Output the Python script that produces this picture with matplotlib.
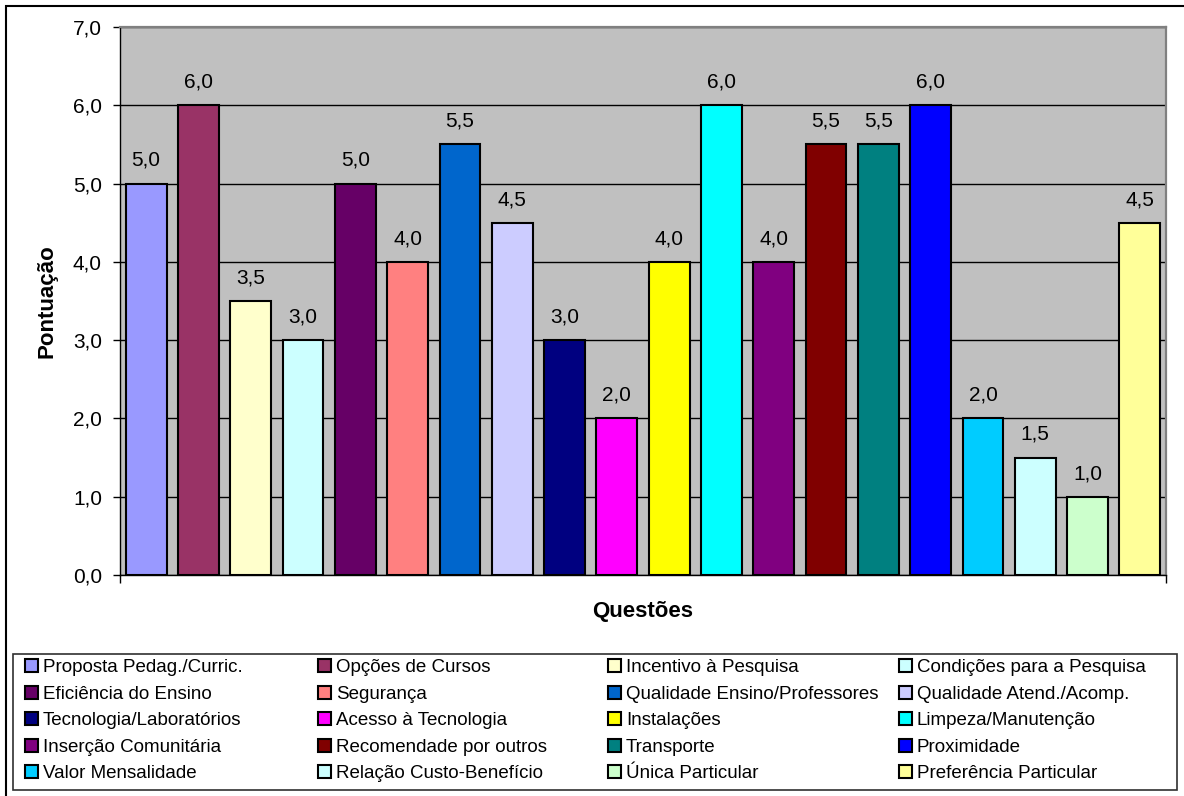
import matplotlib
matplotlib.use("Agg")
import matplotlib.pyplot as plt
from matplotlib.patches import Rectangle

plt.rcParams['font.family'] = ['Liberation Sans', 'DejaVu Sans']

# Survey items, in legend order (row by row, four per row)
questoes = [
    "Proposta Pedag./Curric.", "Opções de Cursos", "Incentivo à Pesquisa",
    "Condições para a Pesquisa", "Eficiência do Ensino", "Segurança",
    "Qualidade Ensino/Professores", "Qualidade Atend./Acomp.",
    "Tecnologia/Laboratórios", "Acesso à Tecnologia", "Instalações",
    "Limpeza/Manutenção", "Inserção Comunitária", "Recomendade por outros",
    "Transporte", "Proximidade", "Valor Mensalidade",
    "Relação Custo-Benefício", "Única Particular", "Preferência Particular",
]

pontuacao = [5.0, 6.0, 3.5, 3.0, 5.0, 4.0, 5.5, 4.5, 3.0, 2.0,
             4.0, 6.0, 4.0, 5.5, 5.5, 6.0, 2.0, 1.5, 1.0, 4.5]

cores = [
    "#9999FF", "#993366", "#FFFFCC", "#CCFFFF", "#660066",
    "#FF8080", "#0066CC", "#CCCCFF", "#000080", "#FF00FF",
    "#FFFF00", "#00FFFF", "#800080", "#800000", "#008080",
    "#0000FF", "#00CCFF", "#CCFFFF", "#CCFFCC", "#FFFF99",
]

y_ticks = [0, 1, 2, 3, 4, 5, 6, 7]


def fmt_br(v):
    return f"{v:.1f}".replace(".", ",")


y_tick_labels = [fmt_br(v) for v in y_ticks]

W, H = 1184, 796
fig = plt.figure(figsize=(W / 100, H / 100), dpi=100)


def fx(px):
    return px / W


def fy(py):
    return 1 - py / H


# outer chart frame
fig.patches.append(Rectangle((fx(6), -0.1), 1.2, fy(6) + 0.1,
                             transform=fig.transFigure, fill=False,
                             edgecolor="black", linewidth=1.5))

ax = fig.add_axes([fx(120), fy(575), fx(1166) - fx(120), fy(27) - fy(575)])
ax.set_facecolor("#C0C0C0")

xpos = list(range(len(pontuacao)))
bars = ax.bar(xpos, pontuacao, width=0.78, color=cores, edgecolor="black",
              linewidth=1.5, zorder=3)

for xi, v in zip(xpos, pontuacao):
    ax.annotate(fmt_br(v), (xi, v), xytext=(0, 12.7),
                textcoords="offset points", ha="center", va="baseline",
                fontsize=15)

ax.set_xlim(-0.5, len(pontuacao) - 0.5)
ax.set_ylim(0, 7)
ax.set_yticks(y_ticks)
ax.set_yticklabels(y_tick_labels)
ax.set_xticks([-0.5, len(pontuacao) - 0.5])
ax.set_xticklabels(["", ""])
ax.tick_params(axis="y", direction="out", length=5, width=1, pad=8,
               labelsize=15, colors="black")
ax.tick_params(axis="x", direction="out", length=6, width=1, colors="black")

ax.set_axisbelow(True)
ax.yaxis.grid(True, color="black", linewidth=1)

for side in ("left", "bottom"):
    ax.spines[side].set_color("black")
    ax.spines[side].set_linewidth(1)
for side in ("top", "right"):
    ax.spines[side].set_color("#808080")
    ax.spines[side].set_linewidth(1.6)

ax.set_ylabel("Pontuação", fontsize=16, fontweight="bold")
ax.yaxis.label.set_va("center")
ax.yaxis.set_label_coords((47 - 120) / 1046, 0.5)
ax.set_xlabel("Questões", fontsize=16, fontweight="bold")
ax.xaxis.label.set_va("center")
ax.xaxis.set_label_coords(0.5, -(612 - 575) / 548)

# legend frame
fig.patches.append(Rectangle((fx(13), fy(790)), fx(1177) - fx(13),
                             fy(654) - fy(790), transform=fig.transFigure,
                             fill=False, edgecolor="#303030", linewidth=1.2))

col_x = [25, 318, 608, 899]
ncol = 4
for c in range(ncol):
    idx = list(range(c, len(questoes), ncol))
    fig.legend(handles=[bars[i] for i in idx],
               labels=[questoes[i] for i in idx],
               loc="upper left", bbox_to_anchor=(fx(col_x[c]), fy(659)),
               bbox_transform=fig.transFigure, frameon=False,
               borderpad=0, borderaxespad=0, handlelength=0.7,
               handleheight=0.7, handletextpad=0.25, labelspacing=0.5,
               fontsize=13.5)

fig.savefig("out.png", dpi=100)
